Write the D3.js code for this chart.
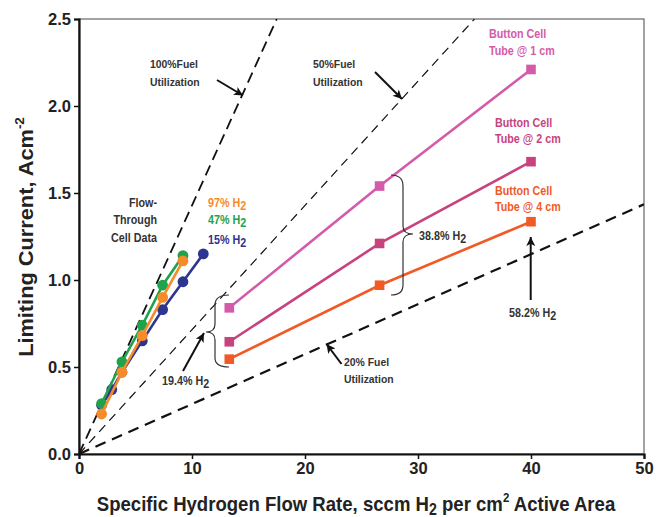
<!DOCTYPE html>
<html><head><meta charset="utf-8">
<script src="https://cdn.jsdelivr.net/npm/d3@7"></script>
<style>
body{margin:0;background:#fff}
text{font-family:"Liberation Sans",Arial,sans-serif;font-weight:bold}
</style>
</head><body>
<svg id="c" width="656" height="517"></svg>
<script>
// ---- data ----
const xTicks = [0, 10, 20, 30, 40, 50];
const yTicks = [0, 0.5, 1.0, 1.5, 2.0, 2.5];

// flow-through cell data
const ftBlueX   = [2.0, 2.9, 3.8, 5.6, 7.4, 9.2, 11.0];
const ftBlueY   = [0.28, 0.37, 0.47, 0.65, 0.83, 0.99, 1.15];
const ftGreenX  = [2.0, 3.8, 5.6, 7.4, 9.2];
const ftGreenY  = [0.29, 0.53, 0.74, 0.97, 1.14];
const ftOrangeX = [2.0, 3.8, 5.6, 7.4, 9.2];
const ftOrangeY = [0.23, 0.47, 0.68, 0.90, 1.11];

// button cell data
const bcX   = [13.3, 26.6, 40.0];
const bc1Y  = [0.84, 1.54, 2.21];
const bc2Y  = [0.645, 1.21, 1.68];
const bc4Y  = [0.545, 0.97, 1.335];

// fuel utilization reference lines (start/end points)
const fu100X = [0, 17.5], fu100Y = [0, 2.5];
const fu50X  = [0, 35.0], fu50Y  = [0, 2.5];
const fu20X  = [0, 50.0], fu20Y  = [0, 1.435];

// ---- chart ----
const svg = d3.select("#c");
const x = d3.scaleLinear([0, 50], [79, 644]);
const y = d3.scaleLinear([0, 2.5], [454, 19]);

const defs = svg.append("defs");
defs.append("clipPath").attr("id","clip").append("rect")
  .attr("x", x(0)).attr("y", y(2.5)).attr("width", x(50)-x(0)).attr("height", y(0)-y(2.5));
defs.append("marker").attr("id","ah").attr("viewBox","0 0 10 10").attr("refX",10).attr("refY",5)
  .attr("markerWidth",11).attr("markerHeight",9).attr("markerUnits","userSpaceOnUse").attr("orient","auto")
  .append("path").attr("d","M0,0 L10,5 L0,10 L2.5,5 Z").attr("fill","#111");

// frame
svg.append("rect").attr("x", x(0)).attr("y", y(2.5)).attr("width", x(50)-x(0)).attr("height", y(0)-y(2.5))
  .attr("fill","none").attr("stroke","#666").attr("stroke-width",1.2);

const line = d3.line().x(d => x(d[0])).y(d => y(d[1]));
const zip = (a, b) => a.map((v, i) => [v, b[i]]);

// reference lines
const g = svg.append("g").attr("clip-path","url(#clip)");
g.append("path").attr("d", line(zip(fu100X, fu100Y))).attr("fill","none").attr("stroke","#111")
  .attr("stroke-width",1.8).attr("stroke-dasharray","11,6");
g.append("path").attr("d", line(zip(fu50X, fu50Y))).attr("fill","none").attr("stroke","#111")
  .attr("stroke-width",1.2).attr("stroke-dasharray","9,6");
g.append("path").attr("d", line(zip(fu20X, fu20Y))).attr("fill","none").attr("stroke","#111")
  .attr("stroke-width",2.2).attr("stroke-dasharray","11,7");

// axes
const yAxis = d3.axisLeft(y).tickValues(yTicks).tickFormat(d3.format(".1f")).tickSize(5).tickPadding(3);
const xAxis = d3.axisBottom(x).tickValues(xTicks).tickFormat(d3.format("d")).tickSize(5).tickPadding(3);
const ya = svg.append("g").attr("transform",`translate(${x(0)},0)`).call(yAxis);
const xa = svg.append("g").attr("transform",`translate(0,${y(0)})`).call(xAxis);
[ya, xa].forEach(a => {
  a.select(".domain").attr("stroke","#111").attr("stroke-width",2.2);
  a.selectAll(".tick line").attr("stroke","#111").attr("stroke-width",1.5);
  a.selectAll(".tick text").attr("fill","#222").style("font-size","16.5px");
});

// series
function series(xs, ys, color, shape) {
  svg.append("path").attr("d", line(zip(xs, ys))).attr("fill","none").attr("stroke",color).attr("stroke-width",2.6);
  const pts = zip(xs, ys);
  if (shape === "circle") {
    svg.append("g").selectAll("circle").data(pts).join("circle")
      .attr("cx", d => x(d[0])).attr("cy", d => y(d[1])).attr("r", 5.4).attr("fill", color);
  } else {
    svg.append("g").selectAll("rect").data(pts).join("rect")
      .attr("x", d => x(d[0]) - 4.8).attr("y", d => y(d[1]) - 4.8).attr("width", 9.6).attr("height", 9.6).attr("fill", color);
  }
}
const cBlue = "#2d3591", cGreen = "#1ea24b", cOrange = "#f68b2b";
const cPink = "#d45ba9", cMag = "#c8437d", cRed = "#f15a25";
series(ftBlueX, ftBlueY, cBlue, "circle");
series(ftGreenX, ftGreenY, cGreen, "circle");
series(ftOrangeX, ftOrangeY, cOrange, "circle");
series(bcX, bc1Y, cPink, "square");
series(bcX, bc2Y, cMag, "square");
series(bcX, bc4Y, cRed, "square");

// condensed text helpers
function label(xp, yp, lines, color, size, anchor, lh, sx) {
  const gg = svg.append("g").attr("transform", `translate(${xp},${yp}) scale(${sx || 0.88},1)`);
  const t = gg.append("text").attr("x", 0).attr("y", 0).attr("fill", color)
    .style("font-size", size + "px").attr("text-anchor", anchor || "start");
  lines.forEach((l, i) => t.append("tspan").attr("x", 0).attr("dy", i === 0 ? 0 : lh).text(l));
  return t;
}
function sub(xp, yp, main, s, color, size, sx) {
  const gg = svg.append("g").attr("transform", `translate(${xp},${yp}) scale(${sx || 0.88},1)`);
  const t = gg.append("text").attr("x", 0).attr("y", 0).attr("fill", color).style("font-size", size + "px");
  t.append("tspan").text(main);
  t.append("tspan").attr("dy", 3).text(s);
  return t;
}

// button-cell labels
label(489, 38, ["Button Cell", "Tube @ 1 cm"], cPink, 12.2, "start", 17);
label(495, 127, ["Button Cell", "Tube @ 2 cm"], cMag, 12.2, "start", 16.5);
label(495, 195, ["Button Cell", "Tube @ 4 cm"], cRed, 12.2, "start", 16);

// flow-through labels
label(157, 207, ["Flow-", "Through", "Cell Data"], "#333", 12.2, "end", 17.5);
sub(208, 207, "97% H", "2", cOrange, 12.2);
sub(208, 224, "47% H", "2", cGreen, 12.2);
sub(208, 244, "15% H", "2", cBlue, 12.2);

// fuel utilization labels
label(150, 68, ["100%Fuel", "Utilization"], "#333", 11.2, "start", 18.5, 0.93);
label(313, 68, ["50%Fuel", "Utilization"], "#333", 11.2, "start", 18.5, 0.93);
label(344, 366, ["20% Fuel", "Utilization"], "#333", 11.2, "start", 17.5, 0.93);

// percentages
sub(162, 385, "19.4% H", "2", "#333", 12.2);
sub(509, 317, "58.2% H", "2", "#333", 12.2);
sub(419, 240, "38.8% H", "2", "#333", 12.2);

// arrows
function arrow(x1, y1, x2, y2) {
  svg.append("line").attr("x1", x1).attr("y1", y1).attr("x2", x2).attr("y2", y2)
    .attr("stroke","#111").attr("stroke-width",2).attr("marker-end","url(#ah)");
}
arrow(217, 80, 243, 95.5);
arrow(375, 72, 402, 99);
arrow(341.5, 364, 326.5, 344);
arrow(183, 371, 204, 333);
arrow(530.7, 300, 530.7, 237);

// braces
svg.append("path").attr("d",
  "M229,295 Q215,295 215,305 L215,324 Q215,332 206,332 Q215,332 215,340 L215,358 Q215,367 229,367")
  .attr("fill","none").attr("stroke","#333").attr("stroke-width",1.2);
svg.append("path").attr("d",
  "M391,175 Q403,175 403,186 L403,226 Q403,234 413,234 Q403,234 403,242 L403,285 Q403,295 391,295")
  .attr("fill","none").attr("stroke","#333").attr("stroke-width",1.2);

// axis titles (condensed to the reference width)
const xg = svg.append("g");
const xt = xg.append("text").attr("x", 0).attr("y", 0).attr("text-anchor","middle").attr("fill","#222")
  .style("font-size","21px");
xt.append("tspan").text("Specific Hydrogen Flow Rate, sccm H");
xt.append("tspan").attr("dy",4).style("font-size","16px").text("2");
xt.append("tspan").attr("dy",-4).text(" per cm");
xt.append("tspan").attr("dy",-9).style("font-size","13px").text("2");
xt.append("tspan").attr("dy",9).text(" Active Area");
const xw = xt.node().getBBox().width;
xg.attr("transform", `translate(356,511) scale(${519 / xw},1)`);

const yg = svg.append("g");
const yt = yg.append("text").attr("x", 0).attr("y", 0).attr("text-anchor","middle")
  .attr("fill","#222").style("font-size","21px");
yt.append("tspan").text("Limiting Current, Acm");
yt.append("tspan").attr("dy",-9).style("font-size","13px").text("-2");
const yw = yt.node().getBBox().width;
yg.attr("transform", `translate(33,237) rotate(-90) scale(${240 / yw},1)`);
</script>
</body></html>
